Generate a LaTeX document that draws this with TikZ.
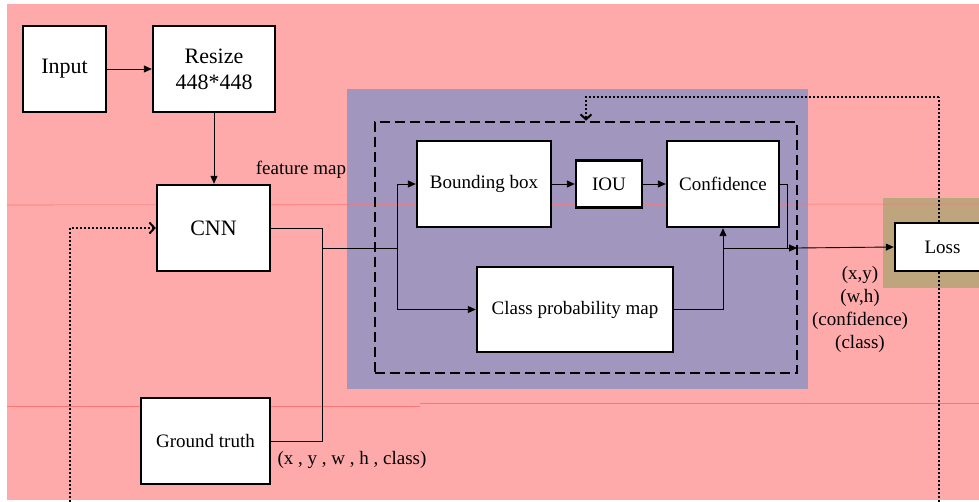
\documentclass[tikz,border=0pt]{standalone}
\usepackage{fontspec}
\setmainfont{Liberation Serif}
\usetikzlibrary{arrows.meta}
\definecolor{bgpink}{RGB}{255,170,170}
\definecolor{bgblue}{RGB}{160,150,190}
\definecolor{bgtan}{RGB}{190,165,125}
\definecolor{faintred}{RGB}{248,118,118}
\begin{document}
\begin{tikzpicture}[x=1pt,y=-1pt,
  box/.style={draw, line width=2.4pt, fill=white, inner sep=0pt, align=center,
    font=\rmfamily\fontsize{19}{23}\selectfont},
  bigbox/.style={box, font=\rmfamily\fontsize{22}{26}\selectfont},
  conn/.style={line width=0.9pt},
  arr/.style={conn, -{Triangle[length=8pt,width=7pt]}},
  dotl/.style={line width=2.2pt, dash pattern=on 2pt off 2pt},
  fbarr/.style={dotl, -{Straight Barb[length=5pt,width=11pt,line width=2pt]}},
  lbl/.style={inner sep=0pt, align=center, font=\rmfamily\fontsize{19}{23}\selectfont},
  dbox/.style={draw, line width=2.6pt, dash pattern=on 10pt off 5pt, inner sep=0pt}
]
\useasboundingbox (0,0) rectangle (979,502);
\clip (0,0) rectangle (979,502);
% backgrounds
\fill[bgpink] (7,4) rectangle (979,500);
\fill[bgblue] (347,89) rectangle (808,389);
\fill[bgtan] (883,198) rectangle (985,288);
\draw[faintred, line width=0.6pt] (7,205) -- (979,204);
\draw[faintred, line width=0.6pt] (7,406) -- (420,406);
\draw[faintred, line width=0.6pt] (420,403) -- (979,403);

% dashed frame
\node[dbox, minimum width=422pt, minimum height=251pt] (frame) at (586,247.5) {};

% feedback dotted paths
\coordinate (fbB) at (939,510);
\coordinate (fbT) at (939,97);
\coordinate (fbL) at (70,510);

% boxes
\node[bigbox, minimum width=83pt, minimum height=86pt] (in) at (64.5,69) {Input};
\node[bigbox, minimum width=122pt, minimum height=86pt] (rs) at (214,69) {Resize\\448*448};
\node[bigbox, minimum width=113pt, minimum height=86pt] (cnn) at (213.5,228) {CNN};
\node[box, minimum width=129pt, minimum height=86pt] (gt) at (205.5,441) {Ground truth};
\node[box, minimum width=134pt, minimum height=86pt] (bb) at (484,184) {Bounding box};
\node[box, minimum width=66pt, minimum height=47pt] (iou) at (609,184) {IOU};
\node[box, minimum width=112pt, minimum height=86pt] (conf) at (723,184) {Confidence};
\node[box, minimum width=196pt, minimum height=85pt] (cpm) at (575,309.5) {Class probability map};

\draw[dotl] (fbB) -- (fbT);
\draw[fbarr] (fbT) -| (frame.north);
\draw[fbarr] (fbL) |- (cnn.west);

\node[box, minimum width=95pt, minimum height=48pt] (loss) at (942.5,247) {Loss};

% labels
\node[lbl] (fm) at (301,170) {feature map};
\node[lbl] (gtl) at (352,460) {(x , y , w , h , class)};
\node[lbl] (outl) at (860,309) {(x,y)\\(w,h)\\(confidence)\\(class)};

% connectors
\coordinate (j1) at (322,248);
\coordinate (fork) at (397,248);
\coordinate (j2) at (723,248);
\coordinate (c2) at (787,248);
\coordinate (outpt) at (797,248);

\draw[arr] (in.east) -- (rs.west);
\draw[arr] (rs.south) -- (rs.south |- cnn.north);
\draw[conn] (cnn.east) -| (j1);
\draw[conn] (gt.east) -| (j1);
\draw[conn] (j1) -- (fork);
\draw[arr] (fork) |- (bb.west);
\draw[arr] (fork) |- (cpm.west);
\draw[arr] (bb.east) -- (iou.west);
\draw[arr] (iou.east) -- (conf.west);
\draw[arr] (cpm.east) -| (conf.south);
\draw[conn] (conf.east) -| (c2);
\draw[arr] (j2) -- (outpt);
\draw[arr] (outpt) -- (loss.west);
\end{tikzpicture}
\end{document}
